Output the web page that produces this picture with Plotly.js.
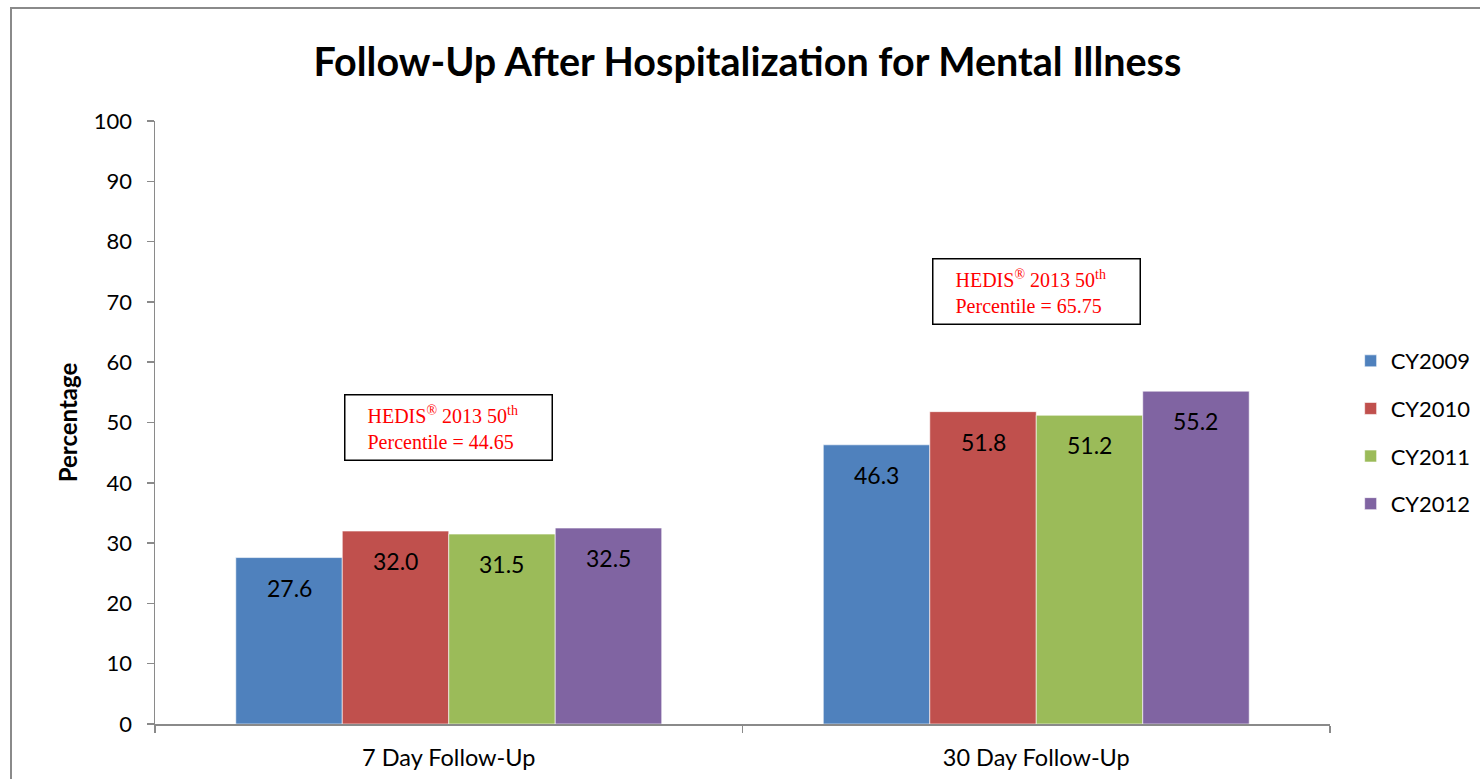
<!DOCTYPE html>
<html>
<head>
<meta charset="utf-8">
<script src="https://cdn.plot.ly/plotly-3.0.1.min.js"></script>
<style>
  html, body { margin: 0; padding: 0; background: #fff; overflow: hidden; }
  #chart { width: 1480px; height: 779px; }
  #frame { position: absolute; left: 10px; top: 7px; width: 1500px; height: 820px;
           border: 2px solid #8a8a8a; pointer-events: none; box-sizing: border-box; }
</style>
</head>
<body>
<div id="chart"></div>
<div id="frame"></div>
<script>
const categories = ["7 Day Follow-Up", "30 Day Follow-Up"];
const seriesNames = ["CY2009", "CY2010", "CY2011", "CY2012"];
const cy2009 = [27.6, 46.3];
const cy2010 = [32.0, 51.8];
const cy2011 = [31.5, 51.2];
const cy2012 = [32.5, 55.2];
const seriesValues = [cy2009, cy2010, cy2011, cy2012];
const colors = ["#4F81BD", "#C0504D", "#9BBB59", "#8064A2"];
const benchmarkLines = [
  ["HEDIS<sup>®</sup> 2013 50<sup>th</sup>", "Percentile = 44.65"],
  ["HEDIS<sup>®</sup> 2013 50<sup>th</sup>", "Percentile = 65.75"]
];
const benchmarkY = [49.1, 71.8];
const yTicks = [0, 10, 20, 30, 40, 50, 60, 70, 80, 90, 100];

const FONT = "Lato, 'Open Sans', sans-serif";
const bargap = 0.275;
const nS = seriesNames.length;
const barW = (1 - bargap) / nS;
const indent = "\u00A0\u00A0\u00A0";

const traces = seriesNames.map((name, i) => ({
  type: "bar",
  name: name,
  x: categories,
  y: seriesValues[i],
  legendgroup: name,
  marker: { color: colors[i], line: { color: "rgba(255,255,255,0.6)", width: 1 } },
  hoverinfo: "x+y+name"
}));

const annotations = [];
seriesValues.forEach((vals, i) => {
  vals.forEach((v, j) => {
    annotations.push({
      x: j - (1 - bargap) / 2 + (i + 0.5) * barW,
      y: v,
      xref: "x", yref: "y",
      text: v.toFixed(1),
      showarrow: false,
      yshift: -30,
      font: { family: FONT, size: 23, color: "#000" }
    });
  });
});
benchmarkLines.forEach((lines, j) => {
  annotations.push({
    x: j, y: benchmarkY[j], xref: "x", yref: "y",
    text: lines.map(l => indent + l).join("<br>"),
    showarrow: false, align: "left",
    font: { family: "'Liberation Serif', 'Times New Roman', serif", size: 20, color: "#ff0000" },
    bordercolor: "#000", borderwidth: 1.5, borderpad: 7, bgcolor: "#fff",
    width: 192
  });
});

const layout = {
  width: 1480, height: 779,
  margin: { l: 155, r: 150, t: 121, b: 55 },
  paper_bgcolor: "#fff", plot_bgcolor: "#fff",
  title: { text: "<b>Follow-Up After Hospitalization for Mental Illness</b>",
           font: { family: FONT, size: 39.5, color: "#000" },
           x: 0.505, xanchor: "center", y: 0.92, yanchor: "middle" },
  barmode: "group", bargap: bargap, bargroupgap: 0,
  showlegend: true,
  legend: { xref: "container", yref: "container", x: 0.9126, xanchor: "left", y: 0.5635, yanchor: "top",
            font: { family: FONT, size: 22, color: "#000" },
            tracegroupgap: 16, traceorder: "grouped" },
  xaxis: {
    type: "category", tickson: "boundaries",
    showline: true, linecolor: "#8a8a8a", linewidth: 1.5,
    ticks: "outside", ticklen: 7, tickcolor: "#8a8a8a", tickwidth: 1.5,
    showgrid: false, zeroline: false, automargin: false,
    ticklabelstandoff: 12,
    tickfont: { family: FONT, size: 23.5, color: "#000" }
  },
  yaxis: {
    range: [0, 100], tickvals: yTicks, ticktext: yTicks.map(String),
    showline: true, linecolor: "#8a8a8a", linewidth: 1.5,
    ticks: "outside", ticklen: 7, tickcolor: "#8a8a8a", tickwidth: 1.5,
    showgrid: false, zeroline: false, automargin: false,
    ticklabelstandoff: 10,
    tickfont: { family: FONT, size: 22, color: "#000" },
    title: { text: "<b>Percentage</b>", font: { family: FONT, size: 24, color: "#000" }, standoff: 9 }
  },
  annotations: annotations
};

Plotly.newPlot("chart", traces, layout, { displayModeBar: false, staticPlot: true });
</script>
</body>
</html>
